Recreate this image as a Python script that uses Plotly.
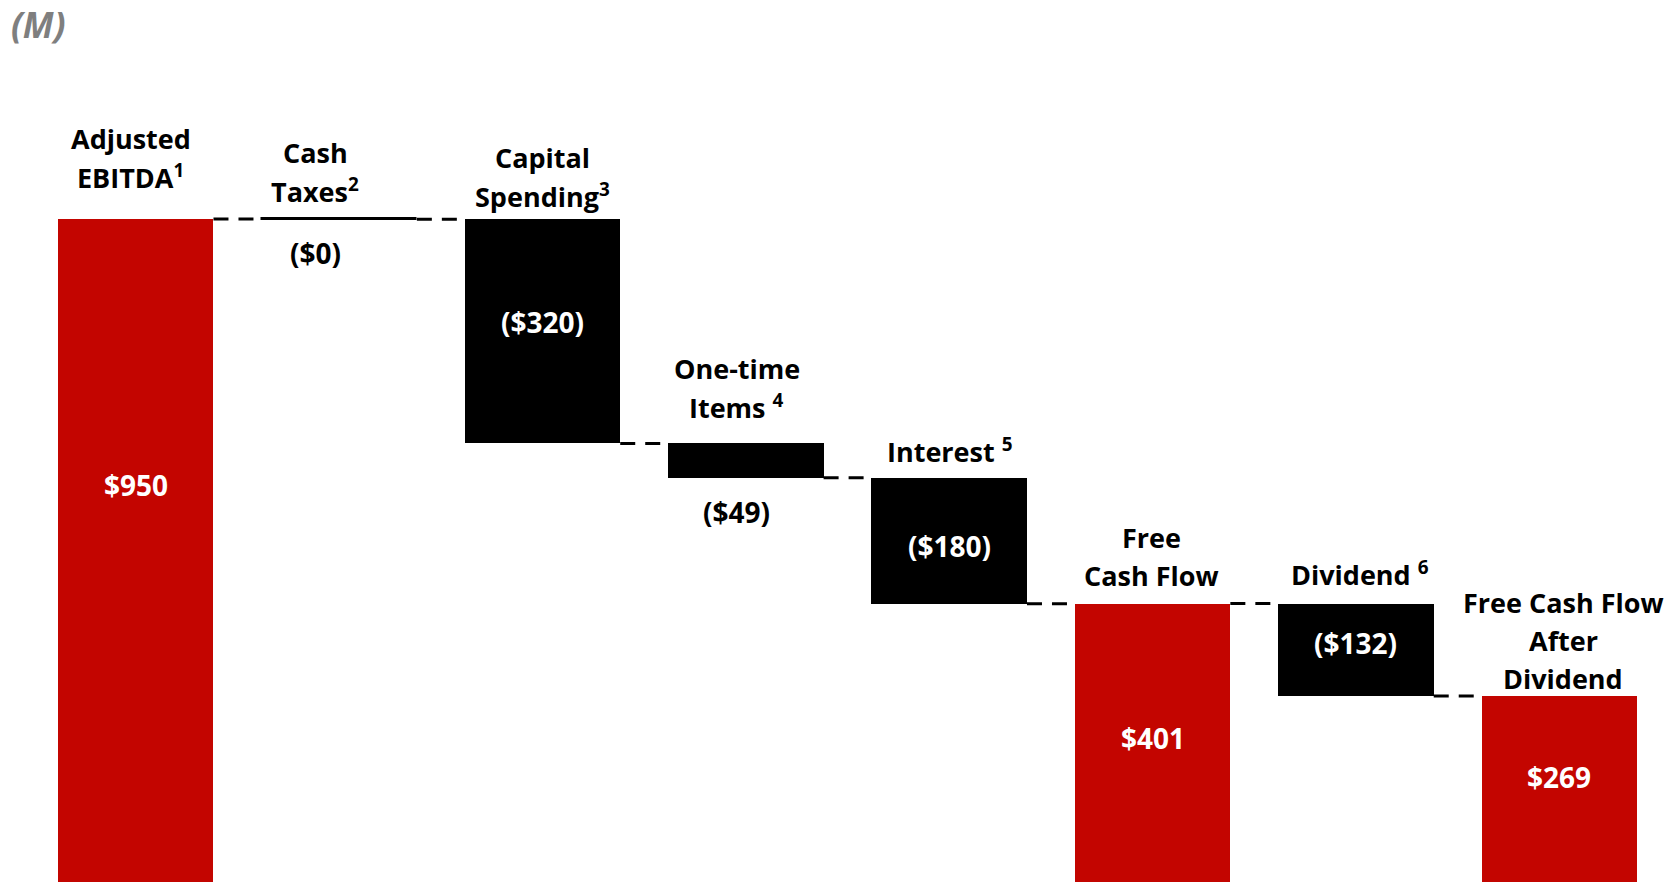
import plotly.graph_objects as go

# ---- data ----
categories = ["Adjusted<br>EBITDA<sup>1</sup>", "Cash<br>Taxes<sup>2</sup>", "Capital<br>Spending<sup>3</sup>",
              "One-time<br>Items <sup>4</sup>", "Interest <sup>5</sup>", "Free<br>Cash Flow",
              "Dividend <sup>6</sup>", "Free Cash Flow<br>After<br>Dividend"]
values = [950, -0.4, -320, -49, -180, 401, -132, 269]
kinds = ["total", "delta", "delta", "delta", "delta", "total", "delta", "total"]

# ---- style ----
RED = "#C30500"
BLACK = "#000000"
BAR_W = 0.765
FONT = "Open Sans"
FS_CAT = 27
FS_VAL = 28
LINE_GAP = 38
label_pos = ["in", "below", "in", "below", "in", "in", "in", "in"]
label_frac = [0.40, None, 0.46, None, 0.54, 0.48, 0.43, 0.43]   # fraction from top of bar
cat_off = [43, 29, 24, 37, 27, 28, 30, 17]                         # px: last line centre above bar top
cat_xshift = [-5, -24, 0, -9, 1, -1, 4, 4]                         # px horizontal nudge

# ---- compute waterfall geometry ----
bases, heights, tops, bottoms, ends = [], [], [], [], []
level = 0
for v, k in zip(values, kinds):
    if k == "total":
        b = 0
        level = v
    else:
        b = level
        level = level + v
    bases.append(b)
    heights.append(v)
    tops.append(max(b, b + v))
    bottoms.append(min(b, b + v))
    ends.append(level)

x = list(range(len(values)))
colors = [RED if k == "total" else BLACK for k in kinds]
line_w = [3 if abs(v) < 1 else 0 for v in values]

fig = go.Figure()
fig.add_trace(go.Bar(
    x=x, y=heights, base=bases, width=BAR_W,
    marker=dict(color=colors, line=dict(color=colors, width=line_w)),
    hoverinfo="skip", showlegend=False,
))

# connectors
for i in range(len(values) - 1):
    fig.add_shape(type="line", xref="x", yref="y",
                  x0=x[i] + BAR_W / 2, x1=x[i + 1] - BAR_W / 2,
                  y0=ends[i], y1=ends[i],
                  line=dict(color=BLACK, width=3, dash="15px,10px"))

def fmt(v):
    s = f"${abs(round(v)):,}"
    return f"({s})" if v < 0 else s

ann = []
for i, v in enumerate(values):
    # category label above bar, one annotation per line for custom line spacing
    lines = categories[i].split("<br>")
    n = len(lines)
    for j, ln in enumerate(lines):
        ann.append(dict(x=x[i], y=tops[i], xref="x", yref="y", text=ln,
                        showarrow=False, xanchor="center", yanchor="middle",
                        yshift=cat_off[i] + (n - 1 - j) * LINE_GAP, xshift=cat_xshift[i],
                        font=dict(family=FONT, size=FS_CAT, color=BLACK, weight="bold")))
    if label_pos[i] == "in":
        ymid = tops[i] - label_frac[i] * (tops[i] - bottoms[i])
        ann.append(dict(x=x[i], y=ymid, xref="x", yref="y", text=fmt(v), showarrow=False,
                        xanchor="center", yanchor="middle",
                        font=dict(family=FONT, size=FS_VAL, color="white", weight="bold")))
    else:
        ann.append(dict(x=x[i], y=bottoms[i], xref="x", yref="y", text=fmt(v), showarrow=False,
                        xanchor="center", yanchor="middle", yshift=-34, xshift=cat_xshift[i],
                        font=dict(family=FONT, size=FS_VAL, color=BLACK, weight="bold")))

ann.append(dict(x=0, y=1, xref="paper", yref="paper", text="(M)", showarrow=False,
                xanchor="left", yanchor="middle", xshift=-25, yshift=-24,
                font=dict(family=FONT, size=35, color="#7F7F7F", weight="bold", style="italic")))

fig.update_layout(
    width=1669, height=882,
    margin=dict(l=34, r=8, t=0, b=0),
    paper_bgcolor="white", plot_bgcolor="white",
    xaxis=dict(range=[-0.5, 7.5], visible=False),
    yaxis=dict(range=[3.4, 1262.7], visible=False),
    annotations=ann,
    bargap=0,
)

fig.write_html("out.html")
